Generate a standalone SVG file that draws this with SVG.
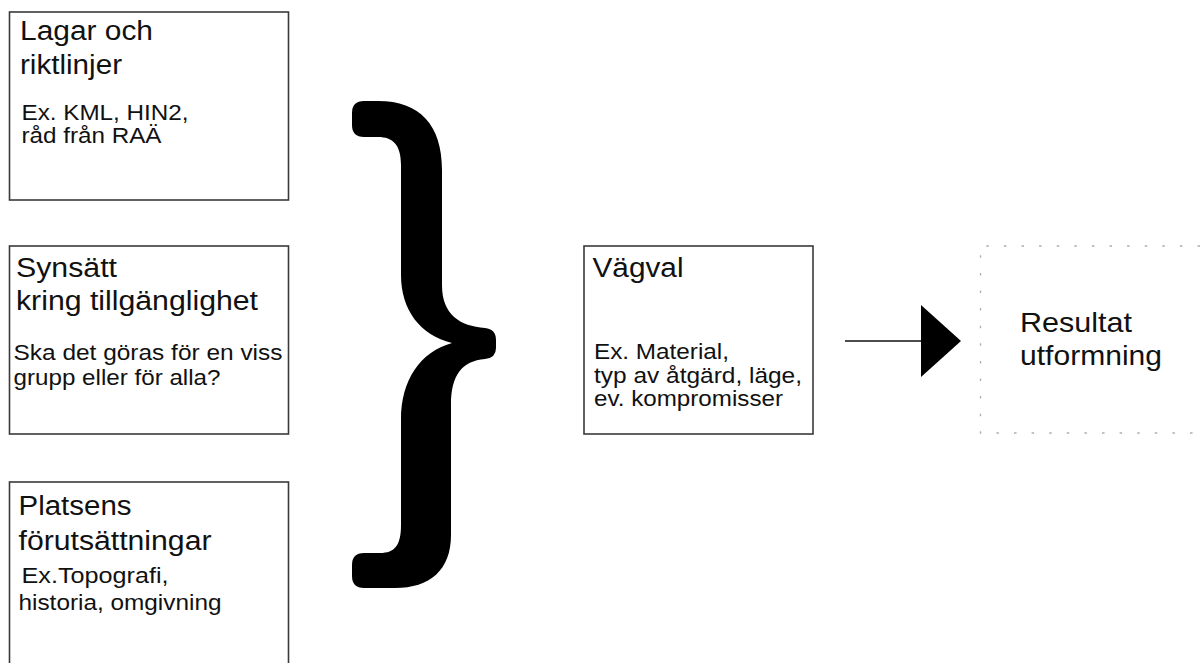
<svg xmlns="http://www.w3.org/2000/svg" width="1204" height="663" viewBox="0 0 1204 663">
<style>
.box{fill:#fff;stroke:#3a3a3a;stroke-width:1.6}
.t{font-family:"Liberation Sans",Arial,sans-serif;fill:#111}
.h{font-size:27px}
.s{font-size:22px}
.r{font-size:28px}
.dot{fill:none;stroke:#adadad;stroke-width:1.3;stroke-dasharray:2.5 15.1}
</style>
<rect width="1204" height="663" fill="#fff"/>
<g id="node-lagar">
<rect class="box" x="9.5" y="12" width="279" height="188"/>
<text class="t h" x="20" y="40" textLength="133" lengthAdjust="spacingAndGlyphs">Lagar och</text>
<text class="t h" x="20" y="74" textLength="102" lengthAdjust="spacingAndGlyphs">riktlinjer</text>
<text class="t s" x="21.5" y="120" textLength="167" lengthAdjust="spacingAndGlyphs">Ex. KML, HIN2,</text>
<text class="t s" x="21.5" y="143" textLength="140" lengthAdjust="spacingAndGlyphs">råd från RAÄ</text>
</g>
<g id="node-synsatt">
<rect class="box" x="9.5" y="246" width="279" height="188"/>
<text class="t h" x="16" y="277" textLength="101" lengthAdjust="spacingAndGlyphs">Synsätt</text>
<text class="t h" x="16" y="310" textLength="242" lengthAdjust="spacingAndGlyphs">kring tillgänglighet</text>
<text class="t s" x="13.5" y="360" textLength="269" lengthAdjust="spacingAndGlyphs">Ska det göras för en viss</text>
<text class="t s" x="13.5" y="385" textLength="207" lengthAdjust="spacingAndGlyphs">grupp eller för alla?</text>
</g>
<g id="node-platsens">
<rect class="box" x="9.5" y="482" width="279" height="200"/>
<text class="t h" x="18.5" y="515" textLength="113" lengthAdjust="spacingAndGlyphs">Platsens</text>
<text class="t h" x="18.5" y="550" textLength="193" lengthAdjust="spacingAndGlyphs">förutsättningar</text>
<text class="t s" x="21.5" y="583" textLength="147" lengthAdjust="spacingAndGlyphs">Ex.Topografi,</text>
<text class="t s" x="18.5" y="610" textLength="203" lengthAdjust="spacingAndGlyphs">historia, omgivning</text>
</g>
<g id="brace">
<path fill="#000" d="M 364 101 L 378 101 C 420 101 442 125 442 170 L 442 285 C 442 315 460 326 485 328 Q 496 329 496 340 L 496 348 Q 496 358 485 359 C 462 361 451 375 451 405 L 451 535 C 451 570 430 588 395 588 L 364 588 Q 352 588 352 576 L 352 565 Q 352 553 364 553 L 380 553 C 395 553 401 545 401 525 L 401 420 C 401 380 420 352 452 343 C 420 335 401 310 401 275 L 401 165 C 401 145 393 137 378 137 L 364 137 Q 352 137 352 125 L 352 113 Q 352 101 364 101 Z"/>
</g>
<g id="node-vagval">
<rect class="box" x="584" y="246" width="229" height="188"/>
<text class="t h" x="592.5" y="277" textLength="91" lengthAdjust="spacingAndGlyphs">Vägval</text>
<text class="t s" x="594" y="359" textLength="135" lengthAdjust="spacingAndGlyphs">Ex. Material,</text>
<text class="t s" x="594" y="383" textLength="208" lengthAdjust="spacingAndGlyphs">typ av åtgärd, läge,</text>
<text class="t s" x="594" y="406" textLength="189" lengthAdjust="spacingAndGlyphs">ev. kompromisser</text>
</g>
<g id="connectors">
<line x1="845" y1="341" x2="922" y2="341" stroke="#111" stroke-width="1.6"/>
<polygon points="921,305 961,341 921,377" fill="#000"/>
</g>
<g id="node-resultat">
<path class="dot" d="M 1200 246 L 980.5 246 L 980.5 433 L 1200 433"/>
<text class="t r" x="1020" y="332" textLength="112" lengthAdjust="spacingAndGlyphs">Resultat</text>
<text class="t r" x="1020" y="365" textLength="142" lengthAdjust="spacingAndGlyphs">utformning</text>
</g>
</svg>
